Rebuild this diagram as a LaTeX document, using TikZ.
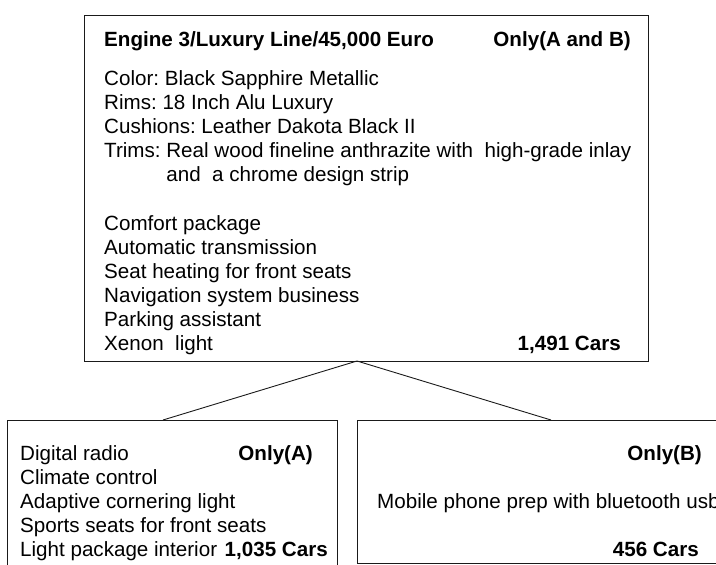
\documentclass[tikz,border=0pt]{standalone}
\usepackage{fontspec}
\setmainfont{Liberation Sans}
\frenchspacing
\usetikzlibrary{positioning}
\definecolor{LineGray}{HTML}{1A1A1A}
\tikzset{
    % Plain text for all nodes
    every node/.style={font=\fontsize{20.6}{24.1}\selectfont},
    % Option box style
    optbox/.style={
        rectangle,
        draw=LineGray,
        line width=0.9pt,
        anchor=north west,
        inner sep=0pt,
        outer sep=0pt
    },
    % Text row
    row/.style={anchor=base west, inner sep=0pt},
    % Bold heading on the left
    head/.style={anchor=base west, inner sep=0pt, font=\fontsize{20.6}{24.1}\selectfont\bfseries},
    % Bold tag on the right
    tag/.style={anchor=base east, inner sep=0pt, font=\fontsize{20.6}{24.1}\selectfont\bfseries},
    % Link between boxes
    link/.style={draw=LineGray, line width=0.9pt}
}

\begin{document}
\begin{tikzpicture}[x=1pt, y=-1pt]
    \useasboundingbox (0,0) rectangle (716,565);
    \clip (0,0) rectangle (716,565);

    % Boxes
    \node (engine) [optbox, minimum width=564pt, minimum height=346pt] at (84,15) {};
    \node (onlya) [optbox, minimum width=330pt, minimum height=170pt] at (7,420) {};
    \node (onlyb) [optbox, minimum width=388pt, minimum height=143pt] at (357,420) {};

    % Links
    \coordinate (split) at ([xshift=-9pt]engine.south);
    \coordinate (ajoin) at ([xshift=-9pt]onlya.north);
    \draw [link] (split) -- (ajoin);
    \draw [link] (split) -- (onlyb.north);

    % Engine box
    \node (enghead) [head] at (104,46.4) {Engine 3/Luxury Line/45,000 Euro};
    \node (engtag) [tag] at (631,46.4) {Only(A and B)};
    \foreach \txt [count=\i from 0] in {Color: Black Sapphire Metallic, Rims: 18 Inch Alu Luxury,
        Cushions: Leather Dakota Black II, Trims: Real wood fineline anthrazite with~ high-grade inlay,
        \hphantom{Trims: }and~ a chrome design strip}
        \node (equip-\i) [row] at (104,{85.4+24.1*\i}) {\txt};
    \foreach \txt [count=\i from 0] in {Comfort package, Automatic transmission,
        Seat heating for front seats, Navigation system business, Parking assistant, Xenon~ light}
        \node (pack-\i) [row] at (104,{230.4+24.1*\i}) {\txt};
    \node (engcars) [tag] at (621,350.9) {1,491 Cars};

    % Only A box
    \foreach \txt [count=\i from 0] in {Digital radio, Climate control, Adaptive cornering light,
        Sports seats for front seats, Light package interior}
        \node (extra-\i) [row] at (20,{460.4+24*\i}) {\txt};
    \node (atag) [tag] at (313,460.4) {Only(A)};
    \node (acars) [tag] at (328,556.4) {1,035 Cars};

    % Only B box
    \node (btag) [tag] at (702,460.4) {Only(B)};
    \node (phone) [row] at (377,508.4) {Mobile phone prep with bluetooth usb};
    \node (bcars) [tag] at (699,556.4) {456 Cars};
\end{tikzpicture}
\end{document}
